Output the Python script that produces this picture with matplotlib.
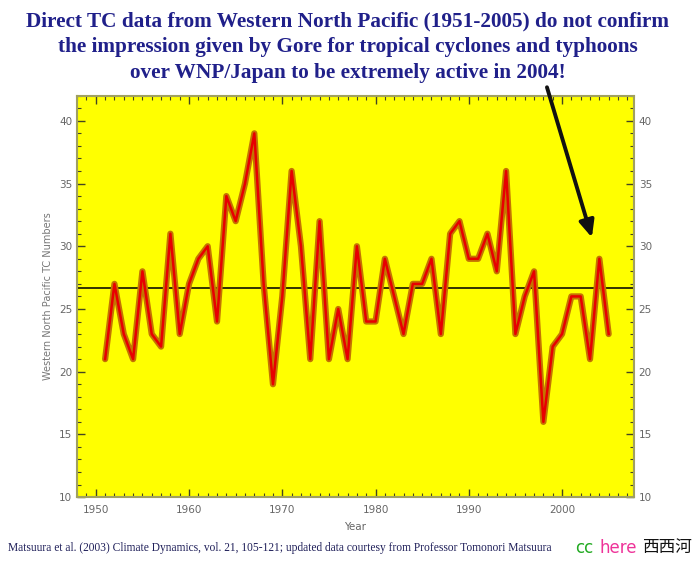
import matplotlib
matplotlib.use("Agg")
import matplotlib.pyplot as plt
from matplotlib.ticker import MultipleLocator
import numpy as np

years = list(range(1951, 2006))
tc_counts = [21, 27, 23, 21, 28, 23, 22, 31, 23, 27,
             29, 30, 24, 34, 32, 35, 39, 27, 19, 26,
             36, 30, 21, 32, 21, 25, 21, 30, 24, 24,
             29, 26, 23, 27, 27, 29, 23, 31, 32, 29,
             29, 31, 28, 36, 23, 26, 28, 16, 22, 23,
             26, 26, 21, 29, 23]
x_ticks = [1950, 1960, 1970, 1980, 1990, 2000]
y_ticks = [10, 15, 20, 25, 30, 35, 40]

title_text = ("Direct TC data from Western North Pacific (1951-2005) do not confirm\n"
              "the impression given by Gore for tropical cyclones and typhoons\n"
              "over WNP/Japan to be extremely active in 2004!")
source_text = ("Matsuura et al. (2003) Climate Dynamics, vol. 21, 105-121; "
               "updated data courtesy from Professor Tomonori Matsuura")

fig = plt.figure(figsize=(6.95, 5.63), dpi=100)
fig.patch.set_facecolor("white")
ax = fig.add_axes([0.111, 0.117, 0.801, 0.713])
ax.set_facecolor("#ffff00")

ax.plot(years, tc_counts, color="#c47400", lw=4.5, solid_joinstyle="round",
        solid_capstyle="round", zorder=3)
ax.plot(years, tc_counts, color="#e80000", lw=1.8, solid_joinstyle="round", zorder=4)
ax.axhline(np.mean(tc_counts), color="#222200", lw=1.3, zorder=2)

ax.set_xlim(1948, 2007.7)
ax.set_ylim(10, 42)
ax.set_xticks(x_ticks)
ax.set_yticks(y_ticks)
ax.xaxis.set_minor_locator(MultipleLocator(1))
ax.yaxis.set_minor_locator(MultipleLocator(1))
ax.tick_params(which="both", direction="in", top=True, right=True,
               labelright=True, color="#444422", labelsize=7.5,
               labelcolor="#666666")
ax.tick_params(which="major", length=6, width=1)
ax.tick_params(which="minor", length=3, width=0.8)
ax.tick_params(axis="x", pad=6)
for s in ax.spines.values():
    s.set_color("#a0a060")
    s.set_linewidth(1.5)

ax.set_xlabel("Year", fontsize=7.5, color="#666666", labelpad=5)
ax.set_ylabel("Western North Pacific TC Numbers", fontsize=7, color="#777777", labelpad=4)

fig.text(0.5, 0.98, title_text, ha="center", va="top", family="Liberation Serif",
         fontweight="bold", fontsize=15.3, color="#20208a", linespacing=1.38)

ax.annotate("", xy=(2003.2, 30.7), xycoords="data",
            xytext=(0.787, 0.845), textcoords="figure fraction",
            arrowprops=dict(arrowstyle="-|>,head_length=1.0,head_width=0.45",
                            color="#111111", lw=2.8, shrinkA=0, shrinkB=0),
            zorder=6)

# source line and site logo along the bottom
fig.text(0.012, 0.027, source_text, ha="left", va="center", family="Liberation Serif",
         fontsize=8.3, color="#20205a")
logo_y = 0.027
fig.text(0.828, logo_y, "cc", ha="left", va="center", fontsize=12, color="#22aa22")
fig.text(0.863, logo_y, "here", ha="left", va="center", fontsize=12, color="#ee3399")
fig.text(0.995, logo_y, "西西河", ha="right", va="center", fontsize=12, color="#111111",
         family=["Noto Sans CJK SC", "DejaVu Sans"])

fig.savefig("out.png", dpi=100)
